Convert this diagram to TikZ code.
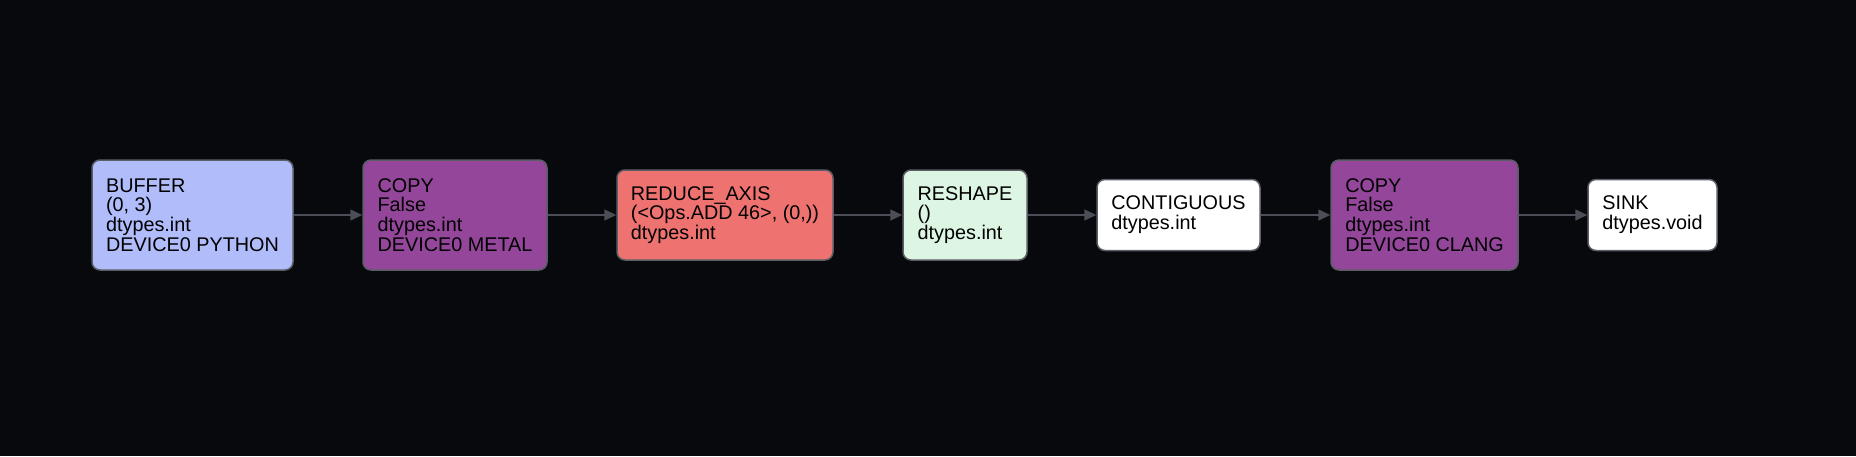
\documentclass[tikz,border=0pt]{standalone}
\usepackage{fontspec}
\setmainfont{Liberation Sans}
\usepackage{tikz}
\usetikzlibrary{arrows.meta}
\definecolor{bgdark}{HTML}{08090D}
\definecolor{boxline}{HTML}{5B5E66}
\definecolor{edgegray}{HTML}{4B4E56}
\definecolor{bufblue}{HTML}{B1BDFA}
\definecolor{copypurple}{HTML}{93469A}
\definecolor{reducered}{HTML}{EE7370}
\definecolor{reshapegreen}{HTML}{DCF6E3}
\newcommand{\opfont}{\fontsize{9.9pt}{9.9pt}\selectfont}

\begin{document}
\begin{tikzpicture}[x=0.5pt,y=-0.5pt,
    op/.style={draw=boxline,line width=0.75pt,rounded corners=4pt,align=left,
      font=\opfont,text=black,inner sep=0pt},
    tall/.style={op,minimum height=55pt},
    mid/.style={op,minimum height=45pt},
    short/.style={op,minimum height=35.5pt},
    flow/.style={draw=edgegray,line width=0.75pt,-{Triangle[length=6pt,width=5.5pt]}}]
      \fill[bgdark] (0,0) rectangle (1856,456);
      \useasboundingbox (0,0) rectangle (1856,456);
      \node (buffer) at (192.5,215) [tall,fill=bufblue,minimum width=100.5pt]
        {BUFFER\\(0, 3)\\dtypes.int\\DEVICE0 PYTHON};
      \node (copyA) at (455,215) [tall,fill=copypurple,minimum width=92pt]
        {COPY\\False\\dtypes.int\\DEVICE0 METAL};
      \node (reduce) at (725,215) [mid,fill=reducered,minimum width=108pt]
        {REDUCE\_AXIS\\(<Ops.ADD 46>, (0,))\\dtypes.int};
      \node (reshape) at (965,215) [mid,fill=reshapegreen,minimum width=62pt]
        {RESHAPE\\()\\dtypes.int};
      \node (contig) at (1178.5,215) [short,fill=white,minimum width=81.5pt]
        {CONTIGUOUS\\dtypes.int};
      \node (copyB) at (1424.5,215) [tall,fill=copypurple,minimum width=93.5pt]
        {COPY\\False\\dtypes.int\\DEVICE0 CLANG};
      \node (sink) at (1652.5,215) [short,fill=white,minimum width=64.5pt]
        {SINK\\dtypes.void};
      \draw[flow] (buffer) -- (copyA);
      \draw[flow] (copyA) -- (reduce);
      \draw[flow] (reduce) -- (reshape);
      \draw[flow] (reshape) -- (contig);
      \draw[flow] (contig) -- (copyB);
      \draw[flow] (copyB) -- (sink);
    \end{tikzpicture}
\end{document}
